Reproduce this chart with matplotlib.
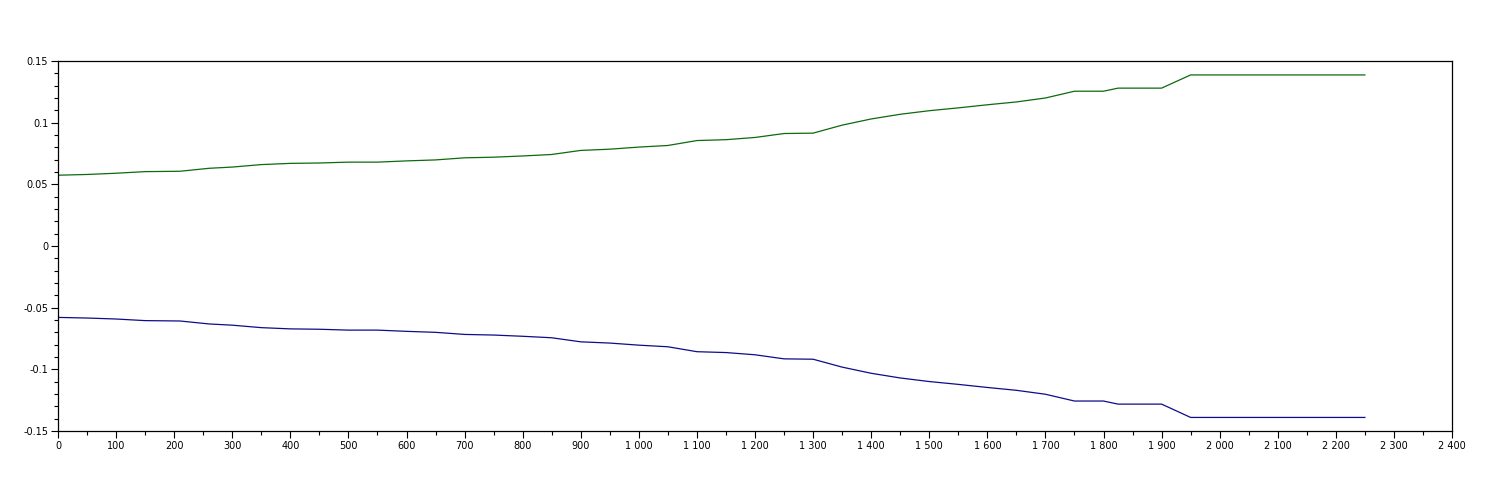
import matplotlib
matplotlib.use("Agg")
import matplotlib.pyplot as plt
from matplotlib.ticker import MultipleLocator, FuncFormatter

x_vals = [0, 50, 100, 150, 210, 260, 300, 350, 400, 450, 500, 550, 600, 650,
          700, 750, 800, 850, 900, 950, 1000, 1050, 1100, 1150, 1200, 1250,
          1300, 1350, 1400, 1450, 1500, 1550, 1600, 1650, 1700, 1750, 1800,
          1825, 1900, 1950, 2250]
upper_vals = [0.0574, 0.0580, 0.0590, 0.0603, 0.0606, 0.0630, 0.0640, 0.0660,
              0.0670, 0.0673, 0.0680, 0.0680, 0.0690, 0.0698, 0.0715, 0.0720,
              0.0730, 0.0742, 0.0775, 0.0785, 0.0802, 0.0815, 0.0855, 0.0862,
              0.0880, 0.0912, 0.0915, 0.0980, 0.1030, 0.1068, 0.1097, 0.1120,
              0.1145, 0.1168, 0.1200, 0.1255, 0.1255, 0.1280, 0.1280, 0.1387,
              0.1387]
lower_vals = [-0.0579, -0.0584, -0.0592, -0.0605, -0.0608, -0.0632, -0.0642,
              -0.0662, -0.0672, -0.0675, -0.0682, -0.0682, -0.0692, -0.0700,
              -0.0717, -0.0722, -0.0732, -0.0744, -0.0777, -0.0787, -0.0804,
              -0.0817, -0.0857, -0.0864, -0.0882, -0.0915, -0.0918, -0.0982,
              -0.1032, -0.1070, -0.1099, -0.1122, -0.1147, -0.1170, -0.1202,
              -0.1257, -0.1257, -0.1282, -0.1282, -0.1390, -0.1390]

fig = plt.figure(figsize=(14.95, 4.93), dpi=100)
ax = fig.add_axes([58 / 1495, 1 - 431 / 493, (1452 - 58) / 1495, (431 - 61) / 493])

ax.plot(x_vals, upper_vals, color="#0d6a0d", linewidth=0.9)
ax.plot(x_vals, lower_vals, color="#0d0d8a", linewidth=0.9)

ax.set_xlim(0, 2400)
ax.set_ylim(-0.15, 0.15)

ax.xaxis.set_major_locator(MultipleLocator(100))
ax.xaxis.set_minor_locator(MultipleLocator(50))
ax.yaxis.set_major_locator(MultipleLocator(0.05))
ax.yaxis.set_minor_locator(MultipleLocator(0.01))

def xfmt(v, pos):
    n = int(round(v))
    s = f"{n:,}".replace(",", " ")
    return s

def yfmt(v, pos):
    if abs(v) < 1e-12:
        return "0"
    s = f"{v:.2f}".rstrip("0").rstrip(".")
    return s

ax.xaxis.set_major_formatter(FuncFormatter(xfmt))
ax.yaxis.set_major_formatter(FuncFormatter(yfmt))

ax.tick_params(axis="both", which="major", direction="out", length=5,
               width=0.8, labelsize=7, pad=2, colors="black")
ax.tick_params(axis="both", which="minor", direction="out", length=3,
               width=0.8)
ax.tick_params(top=False, right=False, which="both")

for sp in ax.spines.values():
    sp.set_linewidth(0.9)
    sp.set_color("black")

fig.savefig("out.png", dpi=100)
